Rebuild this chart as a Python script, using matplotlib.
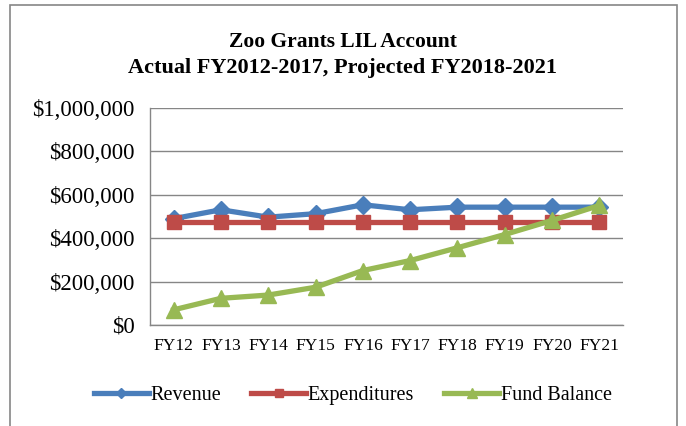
import matplotlib.pyplot as plt
from matplotlib.patches import Rectangle
from matplotlib.ticker import FuncFormatter

years = ['FY12', 'FY13', 'FY14', 'FY15', 'FY16', 'FY17', 'FY18', 'FY19', 'FY20', 'FY21']
revenue = [490000, 531000, 497000, 513000, 554000, 531000, 543000, 543000, 543000, 543000]
expenditures = [475000, 475000, 475000, 475000, 475000, 475000, 475000, 475000, 475000, 475000]
fund_balance = [70000, 123000, 138000, 174000, 251000, 297000, 356000, 417000, 482000, 551000]

plt.rcParams['font.family'] = ['Liberation Serif', 'DejaVu Serif']

fig = plt.figure(figsize=(6.86, 4.26), dpi=100)
# chart border
fig.patches.append(Rectangle((10 / 686, -0.05), 667 / 686, 1.05 - 5 / 426, transform=fig.transFigure,
                             fill=False, edgecolor='#868686', linewidth=1.2))

ax = fig.add_axes([150 / 686, 1 - 325 / 426, 473 / 686, 217 / 426])
x = range(len(years))

ax.plot(x, revenue, color='#4a7ebb', linewidth=3.8, marker='D', markersize=9, label='Revenue', zorder=3)
ax.plot(x, expenditures, color='#be4b48', linewidth=3.8, marker='s', markersize=10, label='Expenditures', zorder=4)
ax.plot(x, fund_balance, color='#98b954', linewidth=3.8, marker='^', markersize=12, label='Fund Balance', zorder=5)

ax.set_xlim(-0.5, len(years) - 0.5)
ax.set_ylim(0, 1000000)
ax.set_yticks(range(0, 1000001, 200000))
ax.yaxis.set_major_formatter(FuncFormatter(lambda v, p: '${:,.0f}'.format(v)))
ax.set_xticks(list(x))
ax.set_xticklabels(years)
ax.tick_params(axis='y', labelsize=16.5, length=0, pad=11)
ax.tick_params(axis='x', labelsize=12.5, length=0, pad=9)
ax.grid(axis='y', color='#868686', linewidth=1)
ax.set_axisbelow(True)
for s in ['top', 'right']:
    ax.spines[s].set_visible(False)
for s in ['left', 'bottom']:
    ax.spines[s].set_color('#868686')
    ax.spines[s].set_linewidth(1)

fig.text(0.5, 1 - 42 / 426, 'Zoo Grants LIL Account', ha='center', va='center',
         fontsize=15.5, fontweight='bold')
fig.text(0.5, 1 - 68 / 426, 'Actual FY2012-2017, Projected FY2018-2021', ha='center', va='center',
         fontsize=16, fontweight='bold')

fig.legend(loc='center', bbox_to_anchor=(353 / 686, 1 - 395 / 426), ncol=3, frameon=False,
           fontsize=14.5, handlelength=2.7, handletextpad=0.1, columnspacing=1.5, markerscale=0.6)

plt.savefig('out.png', dpi=100)
